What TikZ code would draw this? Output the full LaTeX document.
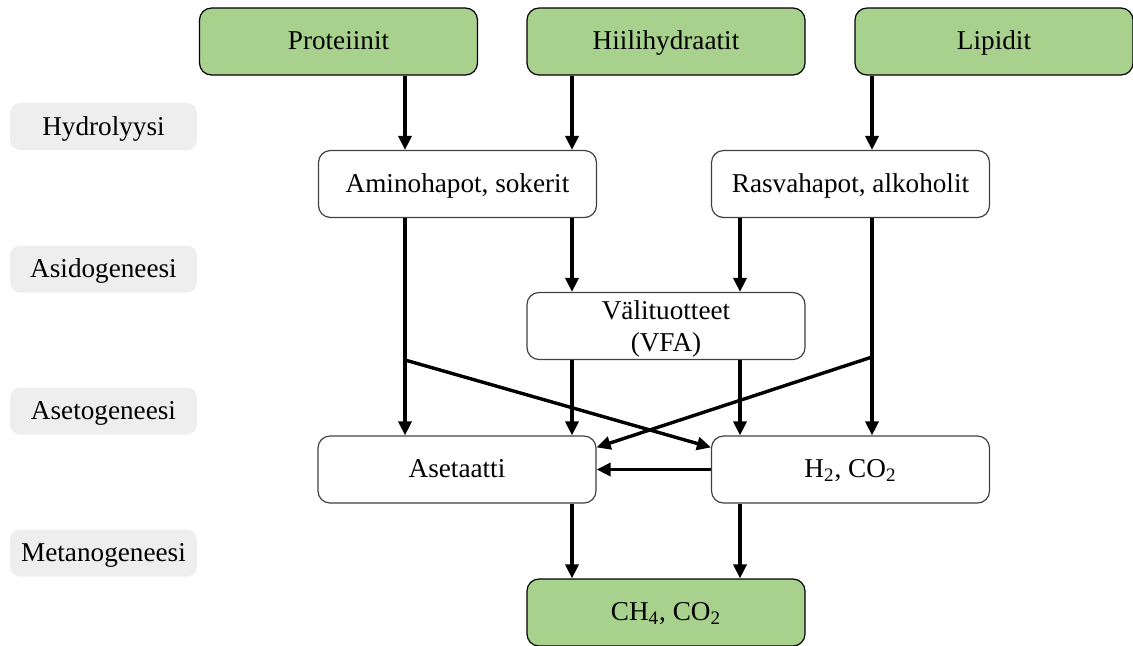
\documentclass[tikz,border=0pt]{standalone}
\usepackage{fontspec}
\setmainfont{Liberation Serif}
\usetikzlibrary{arrows.meta, positioning, calc}
\definecolor{boxGreen}{HTML}{A9D18E}
\definecolor{stageGray}{HTML}{EEEEEE}
\definecolor{boxLine}{HTML}{404040}

\begin{document}
\begin{tikzpicture}[x=0.5pt, y=-0.5pt,
  every node/.style={font=\fontsize{13.6}{14.5}\selectfont},
  box/.style={draw=boxLine, line width=0.6pt, rounded corners=6pt, fill=white,
    minimum width=139pt, minimum height=33.5pt, inner sep=0pt, align=center,
    text height=11pt, text depth=3pt},
  substrate/.style={box, draw=black, fill=boxGreen},
  stage/.style={fill=stageGray, rounded corners=5pt, minimum width=93.5pt,
    minimum height=23.5pt, inner sep=0pt, text height=10.5pt, text depth=2pt},
  arr/.style={line width=1.7pt, -{Triangle[length=7pt, width=6.5pt]}}]
\useasboundingbox (0,0) rectangle (1133,645);

% Stages
\node[stage] (hydro) at (103.5,126.5) {Hydrolyysi};
\node[stage] (asido) at (103.5,269) {Asidogeneesi};
\node[stage] (aseto) at (103.5,411) {Asetogeneesi};
\node[stage] (metano) at (103.5,553) {Metanogeneesi};

% Substrates
\node[substrate] (prot) at (338.5,41.5) {Proteiinit};
\node[substrate] (hiili) at (666,41.5) {Hiilihydraatit};
\node[substrate] (lipid) at (994,41.5) {Lipidit};

% Intermediates
\node[box] (amino) at (457.5,184) {Aminohapot, sokerit};
\node[box] (rasva) at (850.5,184) {Rasvahapot, alkoholit};
\node[box, text height=28pt, text depth=3pt] (vfa) at (666,326) {Välituotteet\\[1.5pt](VFA)};
\node[box] (aset) at (457,469.5) {Asetaatti};
\node[box] (h2co2) at (850.5,469.5) {H\textsubscript{2}, CO\textsubscript{2}};

% Product
\node[substrate] (ch4) at (666,612.5) {CH\textsubscript{4}, CO\textsubscript{2}};

% Arrow columns and branch points
\coordinate (c1) at (405,0);
\coordinate (c2) at (572,0);
\coordinate (c3) at (740,0);
\coordinate (c4) at (872,0);
\coordinate (k1) at (405,360);
\coordinate (k2) at (872,357);

% Hydrolysis
\draw[arr] (prot.south -| c1) -- (amino.north -| c1);
\draw[arr] (hiili.south -| c2) -- (amino.north -| c2);
\draw[arr] (lipid.south -| c4) -- (rasva.north -| c4);

% Acidogenesis
\draw[arr] (amino.south -| c2) -- (vfa.north -| c2);
\draw[arr] (rasva.south -| c3) -- (vfa.north -| c3);

% Acetogenesis
\draw[arr] (amino.south -| c1) -- (aset.north -| c1);
\draw[arr] (rasva.south -| c4) -- (h2co2.north -| c4);
\draw[arr] (vfa.south -| c2) -- (aset.north -| c2);
\draw[arr] (vfa.south -| c3) -- (h2co2.north -| c3);
\draw[arr] (k1) -- ($(h2co2.north west)+(0,12)$);
\draw[arr] (k2) -- ($(aset.north east)+(0,12)$);
\draw[arr] (h2co2.west) -- (aset.east);

% Methanogenesis
\draw[arr] (aset.south -| c2) -- (ch4.north -| c2);
\draw[arr] (h2co2.south -| c3) -- (ch4.north -| c3);
\end{tikzpicture}
\end{document}
